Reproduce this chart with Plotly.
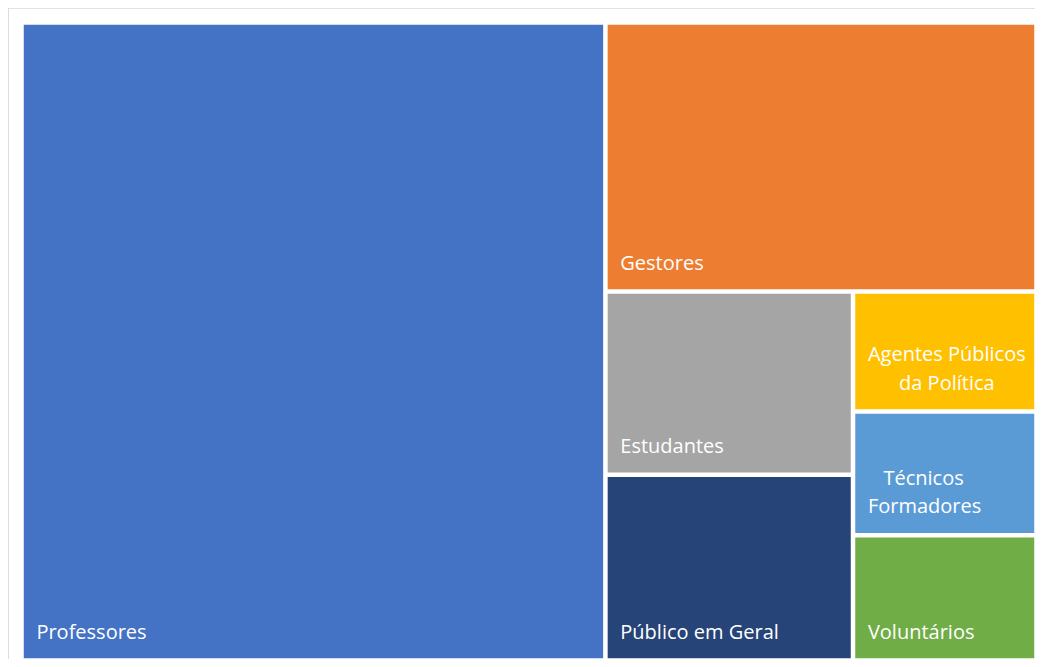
import plotly.graph_objects as go

labels = ["Professores", "Gestores", "Estudantes", "Público em Geral",
          "Agentes Públicos da Política", "Técnicos Formadores", "Voluntários"]
values = [57.5, 17.9, 7.0, 7.1, 3.4, 3.5, 3.55]
colors = ["#4472C4", "#ED7D31", "#A5A5A5", "#264478", "#FFC000", "#5B9BD5", "#70AD47"]

# how the long labels wrap inside their tiles (second line nudged like Excel does)
wrapped = {
    "Agentes Públicos da Política": ["Agentes Públicos", "\u00a0" * 6 + "da Política"],
    "Técnicos Formadores": ["\u00a0" * 3 + "Técnicos", "Formadores"],
}

NB = "\u00a0\u00a0"
def tile_text(lab):
    lines = wrapped.get(lab, [lab])
    body = "<br><br>".join(
        "<span style='font-size:20px'>" + NB + ln + "</span>" for ln in lines)
    # blank small line under the label gives the bottom padding
    return body + "<br>\u00a0"

fig = go.Figure(go.Treemap(
    labels=labels,
    parents=[""] * len(labels),
    values=values,
    text=[tile_text(l) for l in labels],
    sort=False,
    marker=dict(colors=colors, line=dict(width=1.5, color="white"),
                pad=dict(t=0, l=0, r=0, b=0)),
    textinfo="text",
    textposition="bottom left",
    textfont=dict(family="Open Sans", size=11, color="white"),
    pathbar=dict(visible=False),
    tiling=dict(packing="squarify", squarifyratio=1),
    hoverinfo="label+value",
))

fig.update_layout(
    width=1027, height=651,
    margin=dict(l=15, r=0, t=16, b=0),
    paper_bgcolor="white",
    shapes=[dict(type="rect", xref="paper", yref="paper",
                 x0=-0.0147, x1=1.02, y0=-0.05, y1=1.0253,
                 line=dict(color="#D9D9D9", width=1.5), layer="below")],
)

fig.write_html("out.html")
